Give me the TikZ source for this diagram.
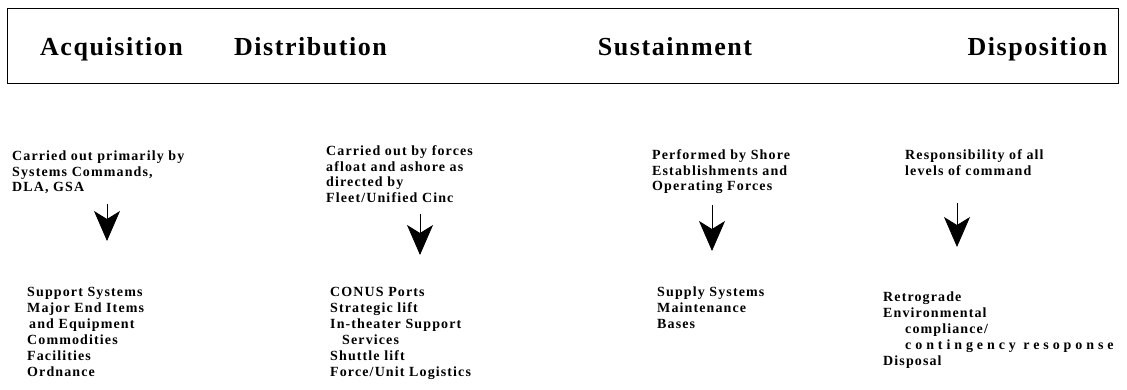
\documentclass[tikz,border=0pt]{standalone}
\usepackage{fontspec}
\usetikzlibrary{arrows.meta}
\setmainfont{Liberation Serif}
\newfontfamily\headfont[LetterSpace=6]{Liberation Serif}
\newfontfamily\bodyfont[LetterSpace=8]{Liberation Serif}
\newfontfamily\widefont[LetterSpace=28]{Liberation Serif}
\begin{document}
\begin{tikzpicture}[x=1pt,y=-1pt,
  heading/.style={anchor=base,inner sep=0pt,font=\headfont\bfseries\fontsize{26}{30}\selectfont},
  desc/.style={anchor=base west,inner sep=0pt,align=left,font=\bodyfont\bfseries\fontsize{14}{15.5}\selectfont},
  items/.style={anchor=base west,inner sep=0pt,align=left,font=\bodyfont\bfseries\fontsize{14}{16}\selectfont},
  flow/.style={line width=0.8pt,-{Stealth[length=30pt,width=26pt,inset=8pt]}}]
\useasboundingbox (0,0) rectangle (1127,390);
\node[draw,line width=0.9pt,minimum width=1111pt,minimum height=75pt,anchor=north west,inner sep=0pt] (frame) at (7,8) {};
\node[heading] (h1) at (111.5,56) {Acquisition};
\node[heading] (h2) at (310.5,56) {Distribution};
\node[heading] (h3) at (675,56) {Sustainment};
\node[heading] (h4) at (1037.5,56) {Disposition};

% anchors are the baselines of the last lines
\node[desc] (d1) at (12,192) {Carried out primarily by\\Systems Commands,\\DLA, GSA};
\node[desc] (d2) at (326,202.5) {Carried out by forces\\afloat and ashore as\\directed by\\Fleet/Unified Cinc};
\node[desc] (d3) at (652,191) {Performed by Shore\\Establishments and\\Operating Forces};
\node[desc] (d4) at (905,175.5) {Responsibility of all\\levels of command};

\node[items] (l1) at (27,376) {Support Systems\\Major End Items\\\hspace{2pt}and Equipment\\Commodities\\Facilities\\Ordnance};
\node[items] (l2) at (330,376) {CONUS Ports\\Strategic lift\\In-theater Support\\\hspace{12pt}Services\\Shuttle lift\\Force/Unit Logistics};
\node[items] (l3) at (657,328) {Supply Systems\\Maintenance\\Bases};
\node[items] (l4) at (883,365) {Retrograde\\Environmental\\\hspace{22pt}compliance/\\\hspace{22pt}{\widefont contingency resoponse}\\Disposal};

\coordinate (a1s) at (107,204); \coordinate (a1e) at (107,241);
\coordinate (a2s) at (420,214); \coordinate (a2e) at (420,255);
\coordinate (a3s) at (712,205); \coordinate (a3e) at (712,251);
\coordinate (a4s) at (957,203); \coordinate (a4e) at (957,247);
\draw[flow] (a1s) -- (a1e);
\draw[flow] (a2s) -- (a2e);
\draw[flow] (a3s) -- (a3e);
\draw[flow] (a4s) -- (a4e);
\end{tikzpicture}
\end{document}
